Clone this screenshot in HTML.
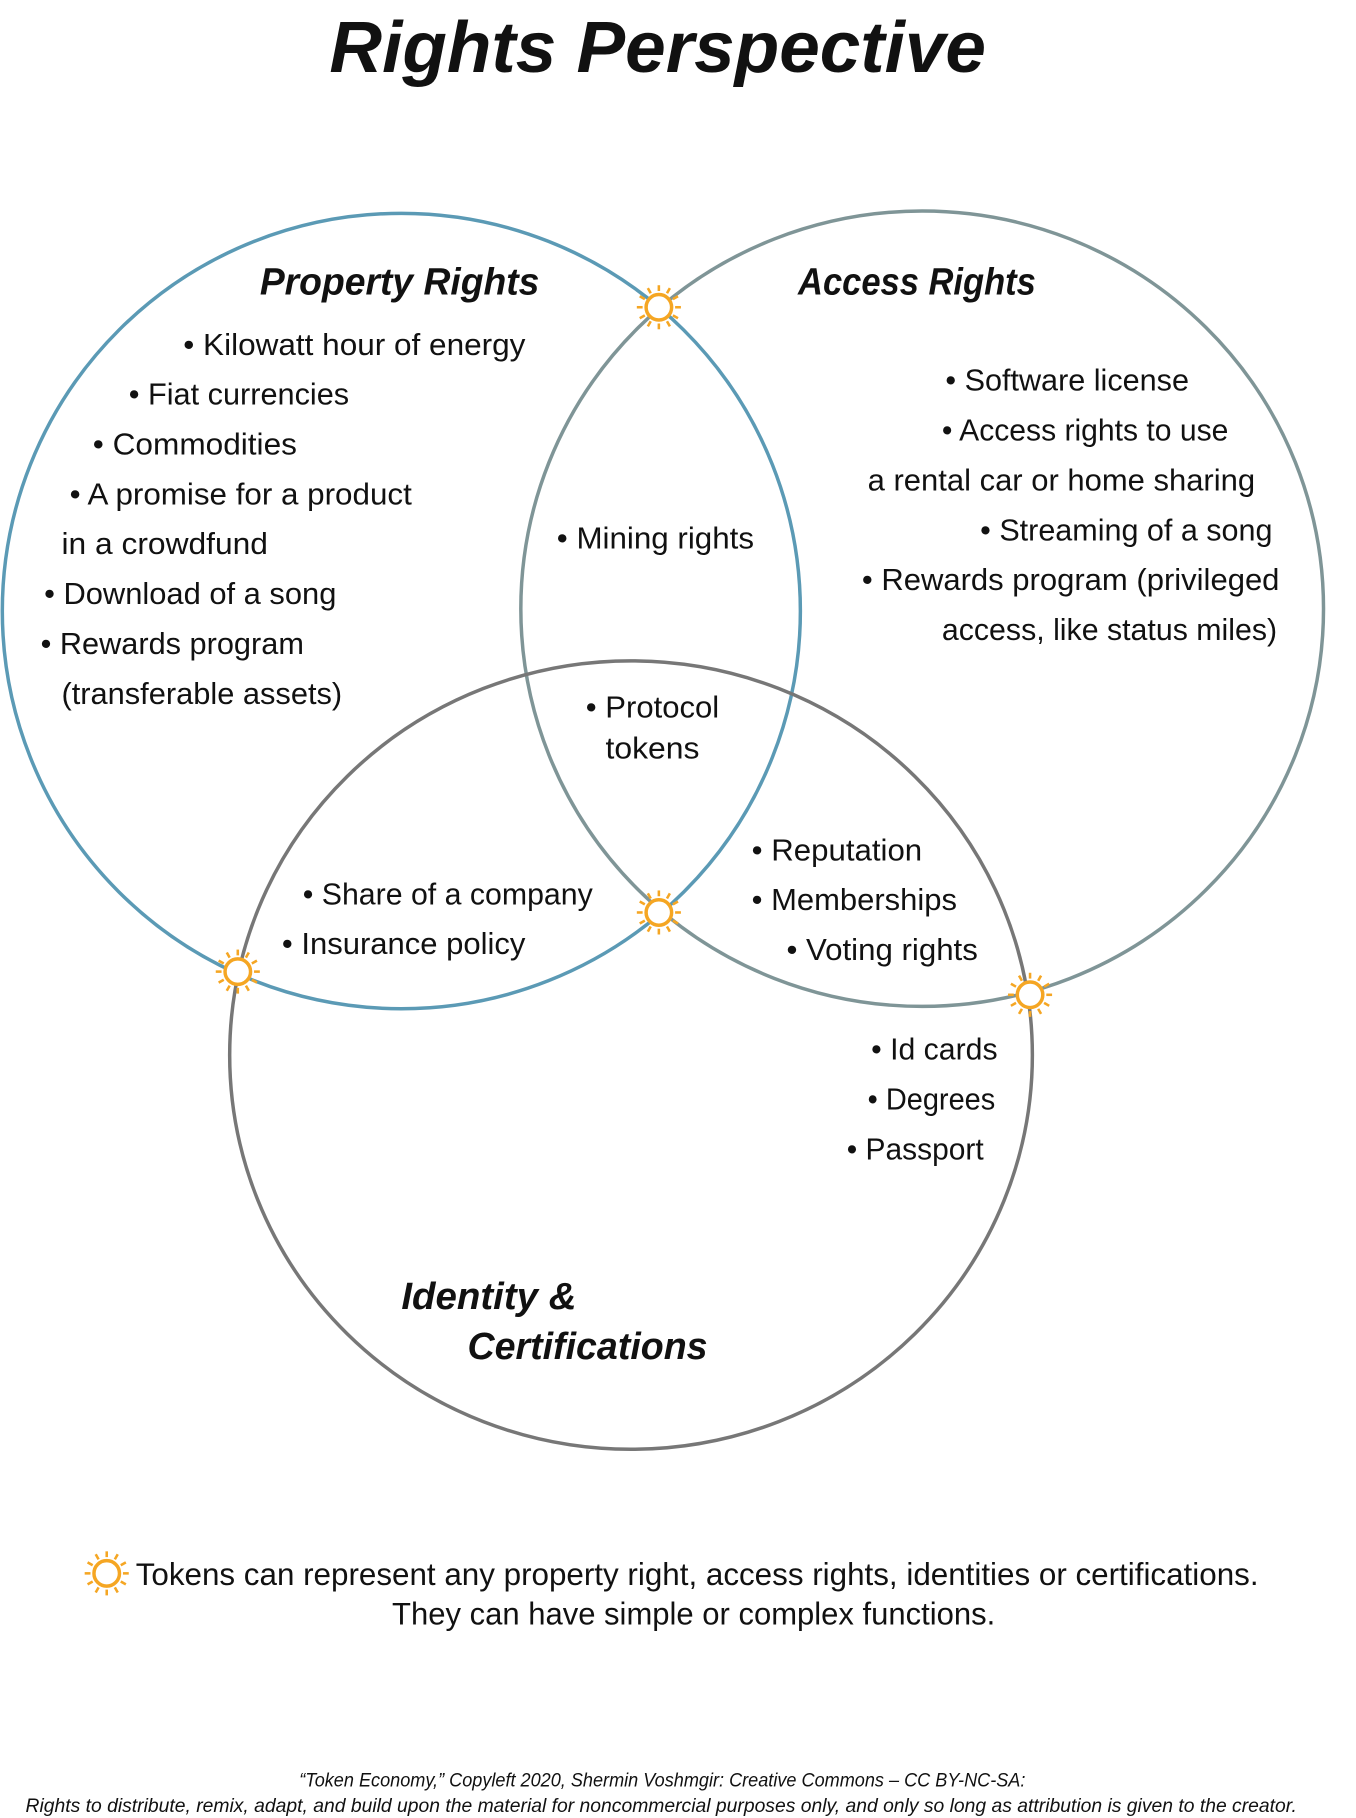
<!DOCTYPE html>
<html><head><meta charset="utf-8"><style>html,body{margin:0;padding:0;background:#fff}svg{display:block}</style></head>
<body>
<svg width="1356" height="1818" viewBox="0 0 1169 1568" preserveAspectRatio="none" xmlns="http://www.w3.org/2000/svg">
<defs>
<g id="sun">
<circle r="11" fill="#fff" stroke="#f5a623" stroke-width="3"/>
<g stroke="#f5a623" stroke-width="2.2">
<line x1="0" y1="-14" x2="0" y2="-19"/><line x1="0" y1="14" x2="0" y2="19"/>
<line x1="-14" y1="0" x2="-19" y2="0"/><line x1="14" y1="0" x2="19" y2="0"/>
<line x1="7" y1="-12.1" x2="9.5" y2="-16.5"/><line x1="-7" y1="-12.1" x2="-9.5" y2="-16.5"/>
<line x1="7" y1="12.1" x2="9.5" y2="16.5"/><line x1="-7" y1="12.1" x2="-9.5" y2="16.5"/>
<line x1="12.1" y1="-7" x2="16.5" y2="-9.5"/><line x1="-12.1" y1="-7" x2="-16.5" y2="-9.5"/>
<line x1="12.1" y1="7" x2="16.5" y2="9.5"/><line x1="-12.1" y1="7" x2="-16.5" y2="9.5"/>
</g></g>
</defs>
<g fill="none" stroke-width="3">
<ellipse cx="346" cy="527" rx="344" ry="343" stroke="#5b9ab5"/>
<ellipse cx="795" cy="525" rx="346" ry="343" stroke="#7f9597"/>
<ellipse cx="544" cy="910" rx="346" ry="340" stroke="#777"/>
</g>
<use href="#sun" x="568" y="265"/>
<use href="#sun" x="568" y="787"/>
<use href="#sun" x="205" y="838"/>
<use href="#sun" x="888" y="858"/>
<use href="#sun" x="92" y="1357"/>
<g font-family="Liberation Sans, sans-serif" fill="#111">
<text x="284" y="62" font-size="62" font-weight="bold" font-style="italic" textLength="566" lengthAdjust="spacingAndGlyphs">Rights Perspective</text>
<g font-size="33" font-weight="bold" font-style="italic">
<text x="224" y="254" textLength="241" lengthAdjust="spacingAndGlyphs">Property Rights</text>
<text x="688" y="254" textLength="205" lengthAdjust="spacingAndGlyphs">Access Rights</text>
<text x="346" y="1129" textLength="151" lengthAdjust="spacingAndGlyphs">Identity &amp;</text>
<text x="403" y="1172" textLength="207" lengthAdjust="spacingAndGlyphs">Certifications</text>
</g>
<g font-size="26">
<text x="158" y="306" textLength="295" lengthAdjust="spacingAndGlyphs">• Kilowatt hour of energy</text>
<text x="111" y="349" textLength="190" lengthAdjust="spacingAndGlyphs">• Fiat currencies</text>
<text x="80" y="392" textLength="176" lengthAdjust="spacingAndGlyphs">• Commodities</text>
<text x="60" y="435" textLength="295" lengthAdjust="spacingAndGlyphs">• A promise for a product</text>
<text x="53" y="478" textLength="178" lengthAdjust="spacingAndGlyphs">in a crowdfund</text>
<text x="38" y="521" textLength="252" lengthAdjust="spacingAndGlyphs">• Download of a song</text>
<text x="35" y="564" textLength="227" lengthAdjust="spacingAndGlyphs">• Rewards program</text>
<text x="53" y="607" textLength="242" lengthAdjust="spacingAndGlyphs">(transferable assets)</text>
<text x="815" y="337" textLength="210" lengthAdjust="spacingAndGlyphs">• Software license</text>
<text x="812" y="380" textLength="247" lengthAdjust="spacingAndGlyphs">• Access rights to use</text>
<text x="748" y="423" textLength="334" lengthAdjust="spacingAndGlyphs">a rental car or home sharing</text>
<text x="845" y="466" textLength="252" lengthAdjust="spacingAndGlyphs">• Streaming of a song</text>
<text x="743" y="509" textLength="360" lengthAdjust="spacingAndGlyphs">• Rewards program (privileged</text>
<text x="812" y="552" textLength="289" lengthAdjust="spacingAndGlyphs">access, like status miles)</text>
<text x="480" y="473" textLength="170" lengthAdjust="spacingAndGlyphs">• Mining rights</text>
<text x="505" y="619" textLength="115" lengthAdjust="spacingAndGlyphs">• Protocol</text>
<text x="522" y="654" textLength="81" lengthAdjust="spacingAndGlyphs">tokens</text>
<text x="648" y="742" textLength="147" lengthAdjust="spacingAndGlyphs">• Reputation</text>
<text x="648" y="785" textLength="177" lengthAdjust="spacingAndGlyphs">• Memberships</text>
<text x="678" y="828" textLength="165" lengthAdjust="spacingAndGlyphs">• Voting rights</text>
<text x="261" y="780" textLength="250" lengthAdjust="spacingAndGlyphs">• Share of a company</text>
<text x="243" y="823" textLength="210" lengthAdjust="spacingAndGlyphs">• Insurance policy</text>
<text x="751" y="914" textLength="109" lengthAdjust="spacingAndGlyphs">• Id cards</text>
<text x="748" y="957" textLength="110" lengthAdjust="spacingAndGlyphs">• Degrees</text>
<text x="730" y="1000" textLength="118" lengthAdjust="spacingAndGlyphs">• Passport</text>
</g>
<g font-size="27">
<text x="117" y="1367" textLength="968" lengthAdjust="spacingAndGlyphs">Tokens can represent any property right, access rights, identities or certifications.</text>
<text x="338" y="1401" textLength="520" lengthAdjust="spacingAndGlyphs">They can have simple or complex functions.</text>
</g>
<g font-size="17" font-style="italic">
<text x="258" y="1541" textLength="626" lengthAdjust="spacingAndGlyphs">“Token Economy,” Copyleft 2020, Shermin Voshmgir: Creative Commons – CC BY-NC-SA:</text>
<text x="22" y="1563" textLength="1096" lengthAdjust="spacingAndGlyphs">Rights to distribute, remix, adapt, and build upon the material  for noncommercial purposes only, and only so long as attribution is given to the creator.</text>
</g>
</g>
</svg>
</body></html>
